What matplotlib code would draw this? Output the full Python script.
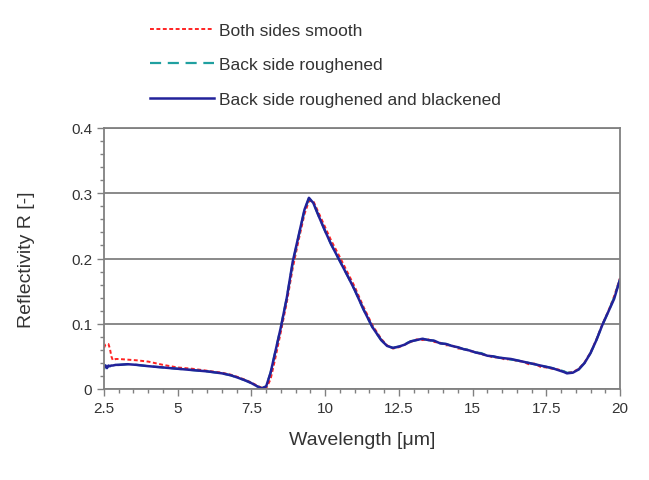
import matplotlib
matplotlib.use("Agg")
import matplotlib.pyplot as plt
from matplotlib.ticker import MultipleLocator, FormatStrFormatter

plt.rcParams["font.family"] = ["Liberation Sans", "DejaVu Sans"]

# wavelength grid [um] shared by the three measurements
wl = [2.5, 2.55, 2.6, 2.65, 2.7, 2.75, 2.8, 2.9, 3.0, 3.3, 3.6, 4.0, 4.5, 5.0, 5.5,
      6.0, 6.5, 6.8, 7.0, 7.3, 7.5, 7.7, 7.85, 8.0, 8.15, 8.3, 8.5, 8.7, 8.9, 9.1,
      9.3, 9.45, 9.6, 9.8, 10.0, 10.2, 10.5, 10.8, 11.0, 11.3, 11.6, 11.9, 12.1,
      12.3, 12.5, 12.7, 12.9, 13.1, 13.3, 13.5, 13.7, 13.9, 14.1, 14.3, 14.5,
      14.7, 14.9, 15.1, 15.3, 15.5, 15.7, 15.9, 16.1, 16.3, 16.5, 16.7, 16.9,
      17.1, 17.3, 17.5, 17.7, 17.9, 18.1, 18.2, 18.4, 18.6, 18.8, 19.0, 19.2,
      19.4, 19.6, 19.8, 20.0]

r_smooth = [0.063, 0.068, 0.069, 0.069, 0.062, 0.050, 0.044, 0.046, 0.046, 0.045,
            0.044, 0.042, 0.037, 0.033, 0.031, 0.028, 0.025, 0.022, 0.019, 0.014,
            0.010, 0.005, 0.002, 0.001, 0.015, 0.045, 0.088, 0.133, 0.185, 0.228,
            0.268, 0.288, 0.288, 0.268, 0.248, 0.228, 0.202, 0.175, 0.157, 0.126,
            0.098, 0.077, 0.067, 0.062, 0.064, 0.068, 0.072, 0.076, 0.075, 0.076,
            0.072, 0.071, 0.067, 0.067, 0.062, 0.062, 0.058, 0.057, 0.053, 0.052,
            0.048, 0.049, 0.045, 0.046, 0.043, 0.042, 0.038, 0.039, 0.034, 0.033,
            0.031, 0.030, 0.027, 0.025, 0.026, 0.031, 0.041, 0.056, 0.076, 0.099,
            0.119, 0.142, 0.170]

r_rough = [0.030, 0.036, 0.033, 0.035, 0.035, 0.036, 0.036, 0.037, 0.037, 0.038,
           0.037, 0.035, 0.033, 0.031, 0.029, 0.027, 0.024, 0.021, 0.018, 0.013,
           0.009, 0.004, 0.001, 0.004, 0.025, 0.055, 0.095, 0.140, 0.193, 0.234,
           0.274, 0.292, 0.285, 0.263, 0.242, 0.222, 0.196, 0.170, 0.152, 0.122,
           0.095, 0.075, 0.066, 0.063, 0.065, 0.069, 0.073, 0.075, 0.077, 0.075,
           0.074, 0.070, 0.069, 0.066, 0.064, 0.061, 0.060, 0.056, 0.055, 0.051,
           0.050, 0.048, 0.047, 0.045, 0.044, 0.042, 0.040, 0.038, 0.036, 0.034,
           0.032, 0.030, 0.027, 0.025, 0.025, 0.030, 0.040, 0.055, 0.075, 0.098,
           0.118, 0.140, 0.168]

r_black = [0.033, 0.036, 0.032, 0.036, 0.035, 0.036, 0.036, 0.037, 0.037, 0.038,
           0.037, 0.035, 0.033, 0.031, 0.029, 0.027, 0.024, 0.021, 0.018, 0.013,
           0.009, 0.004, 0.001, 0.004, 0.025, 0.055, 0.095, 0.140, 0.195, 0.235,
           0.275, 0.293, 0.285, 0.263, 0.242, 0.222, 0.196, 0.170, 0.152, 0.122,
           0.095, 0.075, 0.066, 0.063, 0.065, 0.068, 0.073, 0.075, 0.077, 0.075,
           0.074, 0.070, 0.069, 0.066, 0.064, 0.061, 0.059, 0.056, 0.054, 0.051,
           0.050, 0.048, 0.047, 0.046, 0.044, 0.042, 0.040, 0.038, 0.036, 0.034,
           0.032, 0.029, 0.026, 0.024, 0.025, 0.030, 0.040, 0.055, 0.075, 0.098,
           0.118, 0.138, 0.168]

labels = ["Both sides smooth", "Back side roughened",
          "Back side roughened and blackened"]

GRAY = "#808080"
TXT = "#333333"

fig = plt.figure(figsize=(6.49, 4.81), dpi=100)
ax = fig.add_axes([104 / 649, 91 / 481, 516 / 649, 261 / 481])

ax.plot(wl, r_smooth, color="#ff2222", lw=1.4, ls=(0, (2, 1.3)), label=labels[0])
ax.plot(wl, r_rough, color="#20a0a0", lw=1.6, ls=(0, (5, 3)), label=labels[1])
ax.plot(wl, r_black, color="#22229a", lw=1.8, label=labels[2])

ax.set_xlim(2.5, 20)
ax.set_ylim(0, 0.4)
ax.xaxis.set_major_locator(MultipleLocator(2.5))
ax.xaxis.set_minor_locator(MultipleLocator(0.5))
ax.yaxis.set_major_locator(MultipleLocator(0.1))
ax.yaxis.set_minor_locator(MultipleLocator(0.02))
ax.xaxis.set_major_formatter(FormatStrFormatter("%g"))
ax.yaxis.set_major_formatter(FormatStrFormatter("%g"))
ax.tick_params(which="both", direction="out", color=GRAY, labelsize=11,
               labelcolor=TXT)
ax.tick_params(which="major", length=5, width=1)
ax.tick_params(which="minor", length=3, width=1)
ax.grid(axis="y", which="major", color=GRAY, lw=1.3)
for s in ax.spines.values():
    s.set_color(GRAY)
    s.set_linewidth(1.3)

ax.set_xlabel("Wavelength [\u03bcm]", fontsize=14, color=TXT, labelpad=12)
ax.set_ylabel("Reflectivity R [-]", fontsize=14, color=TXT, labelpad=26)

fig.legend(loc="upper left", bbox_to_anchor=(150 / 649, 1 - 24 / 481),
           frameon=False, fontsize=12.5, handlelength=3.7, handletextpad=0.3,
           labelspacing=1.1, borderpad=0, borderaxespad=0, labelcolor=TXT)

fig.savefig("out.png", dpi=100)
